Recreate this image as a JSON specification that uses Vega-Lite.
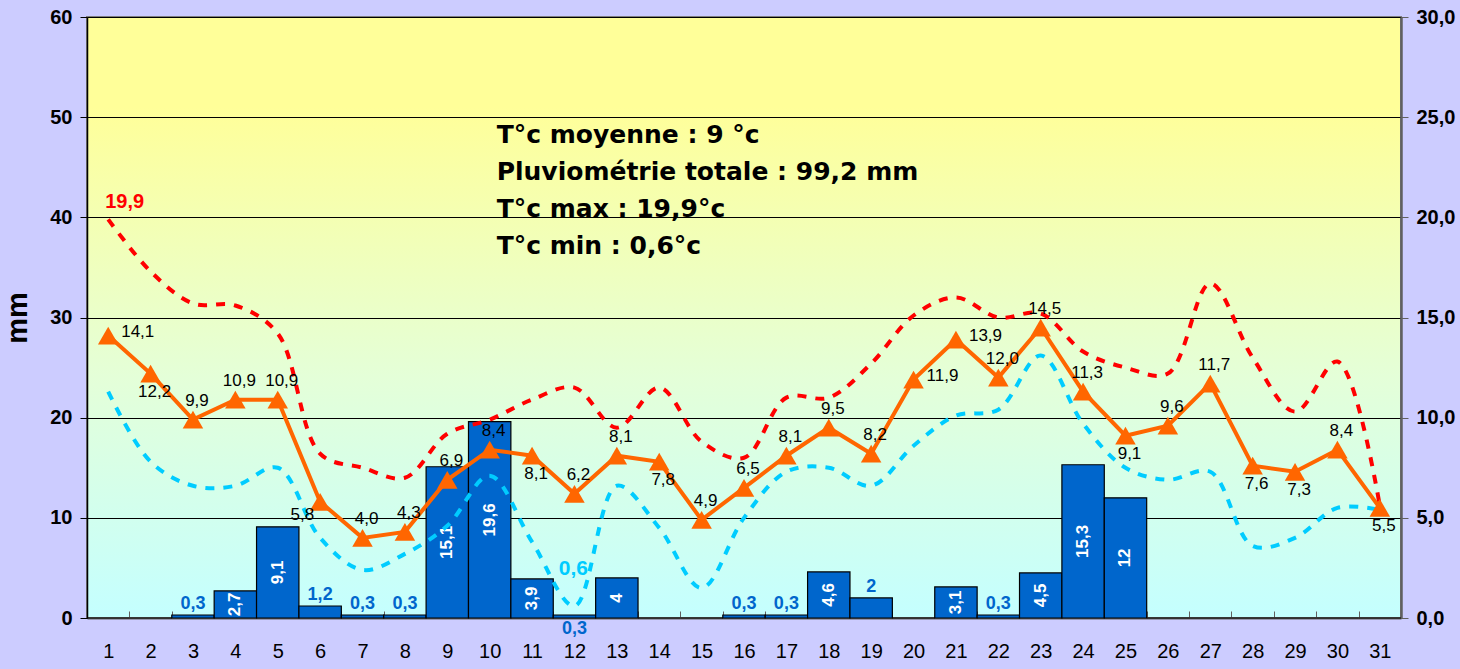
{
  "$schema": "https://vega.github.io/schema/vega-lite/v6.json",
  "width": 1314,
  "height": 601,
  "autosize": {"type": "none"},
  "padding": {"left": 87, "top": 17, "right": 59, "bottom": 51},
  "background": "#CCCCFF",
  "config": {
    "locale": {"number": {"decimal": ",", "thousands": "\u00a0", "grouping": [3], "currency": ["", " €"]}},
    "font": "Liberation Sans",
    "view": {
      "fill": {"gradient": "linear", "x1": 0, "y1": 0, "x2": 0, "y2": 1,
        "stops": [{"offset": 0, "color": "#FFFF99"}, {"offset": 0.15, "color": "#FFFF99"}, {"offset": 0.6, "color": "#E4FFD8"}, {"offset": 1, "color": "#C4FFFF"}]},
      "stroke": "#7F7F7F",
      "strokeWidth": 2
    },
    "axis": {"labelFont": "Liberation Sans", "titleFont": "Liberation Sans", "labelColor": "#000000", "titleColor": "#000000"}
  },
  "data": {"values": [
    {"day": 1, "rain": 0, "tmean": 14.1, "tmax": 19.9, "tmin": 11.3},
    {"day": 2, "rain": 0, "tmean": 12.2, "tmax": 17.3, "tmin": 7.8},
    {"day": 3, "rain": 0.3, "tmean": 9.9, "tmax": 15.7, "tmin": 6.6},
    {"day": 4, "rain": 2.7, "tmean": 10.9, "tmax": 15.6, "tmin": 6.6},
    {"day": 5, "rain": 9.1, "tmean": 10.9, "tmax": 14.2, "tmin": 7.5},
    {"day": 6, "rain": 1.2, "tmean": 5.8, "tmax": 8.2, "tmin": 4.0},
    {"day": 7, "rain": 0.3, "tmean": 4.0, "tmax": 7.5, "tmin": 2.4},
    {"day": 8, "rain": 0.3, "tmean": 4.3, "tmax": 7.0, "tmin": 3.2},
    {"day": 9, "rain": 15.1, "tmean": 6.9, "tmax": 9.2, "tmin": 4.6},
    {"day": 10, "rain": 19.6, "tmean": 8.4, "tmax": 9.9, "tmin": 7.1},
    {"day": 11, "rain": 3.9, "tmean": 8.1, "tmax": 10.9, "tmin": 3.8},
    {"day": 12, "rain": 0.3, "tmean": 6.2, "tmax": 11.5, "tmin": 0.6},
    {"day": 13, "rain": 4, "tmean": 8.1, "tmax": 9.5, "tmin": 6.6},
    {"day": 14, "rain": 0, "tmean": 7.8, "tmax": 11.5, "tmin": 4.5},
    {"day": 15, "rain": 0, "tmean": 4.9, "tmax": 8.8, "tmin": 1.5},
    {"day": 16, "rain": 0.3, "tmean": 6.5, "tmax": 8.0, "tmin": 5.0},
    {"day": 17, "rain": 0.3, "tmean": 8.1, "tmax": 11.0, "tmin": 7.3},
    {"day": 18, "rain": 4.6, "tmean": 9.5, "tmax": 11.0, "tmin": 7.5},
    {"day": 19, "rain": 2, "tmean": 8.2, "tmax": 12.7, "tmin": 6.6},
    {"day": 20, "rain": 0, "tmean": 11.9, "tmax": 15.1, "tmin": 8.6},
    {"day": 21, "rain": 3.1, "tmean": 13.9, "tmax": 16.0, "tmin": 10.1},
    {"day": 22, "rain": 0.3, "tmean": 12.0, "tmax": 15.0, "tmin": 10.4},
    {"day": 23, "rain": 4.5, "tmean": 14.5, "tmax": 15.2, "tmin": 13.1},
    {"day": 24, "rain": 15.3, "tmean": 11.3, "tmax": 13.3, "tmin": 9.7},
    {"day": 25, "rain": 12, "tmean": 9.1, "tmax": 12.5, "tmin": 7.5},
    {"day": 26, "rain": 0, "tmean": 9.6, "tmax": 12.2, "tmin": 6.9},
    {"day": 27, "rain": 0, "tmean": 11.7, "tmax": 16.7, "tmin": 7.3},
    {"day": 28, "rain": 0, "tmean": 7.6, "tmax": 13.0, "tmin": 3.6},
    {"day": 29, "rain": 0, "tmean": 7.3, "tmax": 10.3, "tmin": 4.0},
    {"day": 30, "rain": 0, "tmean": 8.4, "tmax": 12.8, "tmin": 5.5},
    {"day": 31, "rain": 0, "tmean": 5.5, "tmax": 5.6, "tmin": 5.4}
  ]},
  "encoding": {
    "x": {"field": "day", "type": "ordinal", "title": null,
      "scale": {"paddingInner": 0, "paddingOuter": 0},
      "axis": {"labelAngle": 0, "labelFontSize": 20, "tickBand": "extent", "tickSize": -7, "tickColor": "#606060", "domainColor": "#606060", "domainWidth": 2, "labelPadding": 30, "grid": false, "title": null}}
  },
  "layer": [
    {
      "layer": [
        {
          "mark": {"type": "bar", "color": "#0066CC", "stroke": "#000000", "strokeWidth": 1.2},
          "encoding": {
            "y": {"field": "rain", "type": "quantitative", "scale": {"domain": [0, 60]},
              "axis": {"orient": "left", "title": "mm", "titleFontSize": 29, "titleFontWeight": "bold", "titlePadding": 17, "values": [0, 10, 20, 30, 40, 50, 60], "labelFontSize": 20, "labelFontWeight": "bold", "tickSize": 7, "labelPadding": 8, "tickColor": "#000000", "domainColor": "#000000", "domainWidth": 1.5, "grid": true, "gridColor": "#000000", "gridWidth": 1, "gridOpacity": 1}}
          }
        },
        {
          "transform": [{"filter": "datum.rain > 0 && datum.rain < 2.5 && datum.day != 12"}],
          "mark": {"type": "text", "fontWeight": "bold", "fontSize": 18, "color": "#0066CC", "dy": -11, "baseline": "middle"},
          "encoding": {"y": {"field": "rain", "type": "quantitative"}, "text": {"field": "rain", "format": "~g"}}
        },
        {
          "transform": [{"filter": "datum.day == 12"}],
          "mark": {"type": "text", "fontWeight": "bold", "fontSize": 18, "color": "#0066CC", "dy": 14, "baseline": "middle"},
          "encoding": {"y": {"field": "rain", "type": "quantitative"}, "text": {"field": "rain", "format": "~g"}}
        },
        {
          "data": {"values": [{}]},
          "mark": {"type": "text", "align": "left", "baseline": "alphabetic", "dx": 7, "font": "DejaVu Sans", "fontWeight": "bold", "fontSize": 25, "lineHeight": 37, "color": "#000000"},
          "encoding": {
            "x": {"datum": 10, "type": "ordinal"},
            "y": {"datum": 47.4, "type": "quantitative"},
            "text": {"value": ["T°c moyenne : 9 °c", "Pluviométrie totale : 99,2 mm", "T°c max : 19,9°c", "T°c min : 0,6°c"]}
          }
        }
      ]
    },
    {
      "transform": [{"filter": "datum.rain >= 2.5"}],
      "mark": {"type": "text", "angle": 270, "color": "#FFFFFF", "fontWeight": "bold", "fontSize": 17, "baseline": "middle", "align": "center"},
      "encoding": {
        "y": {"field": "rain", "type": "quantitative", "scale": {"domain": [0, 120]}, "axis": null},
        "text": {"field": "rain", "format": "~g"}
      }
    },
    {
      "layer": [
        {
          "mark": {"type": "line", "color": "#FF0000", "strokeWidth": 4, "strokeDash": [9, 9], "interpolate": "catmull-rom"},
          "encoding": {"y": {"field": "tmax", "type": "quantitative", "scale": {"domain": [0, 30]}, "title": null,
            "axis": {"orient": "right", "title": null, "values": [0, 5, 10, 15, 20, 25, 30], "format": ".1f", "labelFontSize": 20, "labelFontWeight": "bold", "tickSize": 7, "labelPadding": 8, "tickColor": "#606060", "domainColor": "#606060", "domainWidth": 2.5, "grid": false}}}
        },
        {
          "mark": {"type": "line", "color": "#00CCFF", "strokeWidth": 4, "strokeDash": [9, 9], "interpolate": "catmull-rom"},
          "encoding": {"y": {"field": "tmin", "type": "quantitative", "title": null}}
        },
        {
          "mark": {"type": "line", "color": "#FF6600", "strokeWidth": 4},
          "encoding": {"y": {"field": "tmean", "type": "quantitative", "title": null}}
        },
        {
          "mark": {"type": "point", "shape": "triangle-up", "size": 420, "filled": true, "color": "#FF6600", "opacity": 1},
          "encoding": {"y": {"field": "tmean", "type": "quantitative", "title": null}}
        },
        {
          "transform": [{"filter": {"field": "day", "oneOf": [3, 4, 5, 7, 8, 9, 10, 12, 13, 15, 16, 17, 18, 19, 22, 23, 24, 26, 27, 30]}}],
          "mark": {"type": "text", "fontSize": 17, "color": "#000000", "align": "center", "baseline": "middle", "dx": 4, "dy": -19},
          "encoding": {"y": {"field": "tmean", "type": "quantitative", "title": null}, "text": {"field": "tmean", "format": ".1f"}}
        },
        {
          "transform": [{"filter": {"field": "day", "oneOf": [2, 11, 14, 25, 28, 29, 31]}}],
          "mark": {"type": "text", "fontSize": 17, "color": "#000000", "align": "center", "baseline": "middle", "dx": 4, "dy": 18},
          "encoding": {"y": {"field": "tmean", "type": "quantitative", "title": null}, "text": {"field": "tmean", "format": ".1f"}}
        },
        {
          "transform": [{"filter": {"field": "day", "oneOf": [1, 20, 21]}}],
          "mark": {"type": "text", "fontSize": 17, "color": "#000000", "align": "left", "baseline": "middle", "dx": 13, "dy": -4},
          "encoding": {"y": {"field": "tmean", "type": "quantitative", "title": null}, "text": {"field": "tmean", "format": ".1f"}}
        },
        {
          "transform": [{"filter": {"field": "day", "oneOf": [6]}}],
          "mark": {"type": "text", "fontSize": 17, "color": "#000000", "align": "right", "baseline": "middle", "dx": -6, "dy": 13},
          "encoding": {"y": {"field": "tmean", "type": "quantitative", "title": null}, "text": {"field": "tmean", "format": ".1f"}}
        },
        {
          "transform": [{"filter": "datum.day == 1"}],
          "mark": {"type": "text", "fontSize": 20, "fontWeight": "bold", "color": "#FF0000", "align": "left", "baseline": "middle", "dx": -3, "dy": -17},
          "encoding": {"y": {"field": "tmax", "type": "quantitative", "title": null}, "text": {"field": "tmax", "format": ".1f"}}
        },
        {
          "transform": [{"filter": "datum.day == 12"}],
          "mark": {"type": "text", "fontSize": 21, "fontWeight": "bold", "color": "#00CCFF", "align": "center", "baseline": "middle", "dx": -1, "dy": -37},
          "encoding": {"y": {"field": "tmin", "type": "quantitative", "title": null}, "text": {"field": "tmin", "format": ".1f"}}
        }
      ]
    }
  ],
  "resolve": {"scale": {"y": "independent"}}
}
